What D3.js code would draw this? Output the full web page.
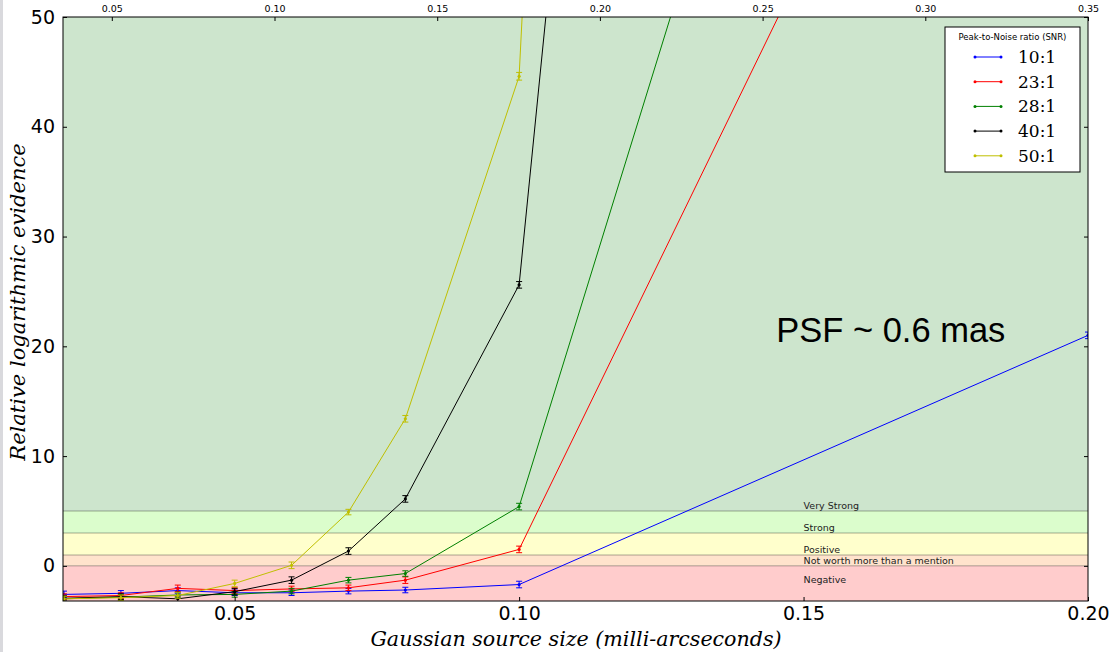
<!DOCTYPE html>
<html>
<head>
<meta charset="utf-8">
<script src="https://cdn.jsdelivr.net/npm/d3@7"></script>
<style>
  body { margin: 0; background: #fff; }
  svg { display: block; }
  .tick-bottom text, .tick-left text { font-family: "DejaVu Sans", sans-serif; font-size: 19px; fill: #000; }
  .tick-top text { font-family: "DejaVu Sans", sans-serif; font-size: 9.5px; fill: #000; }
  .tick line { stroke: #000; }
</style>
</head>
<body>
<svg id="chart" width="1111" height="652"></svg>
<script>
(function () {
  'use strict';

  // source sizes (milli-arcseconds) where evidence was computed
  const sizes = [0.02, 0.03, 0.04, 0.05, 0.06, 0.07, 0.08, 0.10, 0.20];

  // relative log evidence for each SNR run
  const snr10 = [-2.6, -2.5, -2.25, -2.45, -2.45, -2.3, -2.2, -1.7, 21.0];
  const snr23 = [-2.8, -2.7, -2.05, -2.25, -2.1, -2.0, -1.3, 1.5, 108];
  const snr28 = [-3.0, -2.85, -2.65, -2.6, -2.3, -1.3, -0.7, 5.4, 173];
  const snr40 = [-2.95, -2.8, -3.0, -2.35, -1.3, 1.35, 6.1, 25.6, 545];
  const snr50 = [-3.0, -2.9, -2.7, -1.6, 0.05, 4.9, 13.4, 44.6, 1070];

  // error bars (half widths)
  const err10 = [0.3, 0.25, 0.25, 0.25, 0.25, 0.25, 0.25, 0.3, 0.3];
  const err23 = [0.25, 0.25, 0.3, 0.25, 0.25, 0.25, 0.3, 0.3, 0.3];
  const err28 = [0.25, 0.25, 0.25, 0.25, 0.25, 0.25, 0.25, 0.3, 0.3];
  const err40 = [0.25, 0.25, 0.25, 0.3, 0.3, 0.3, 0.3, 0.3, 0.3];
  const err50 = [0.25, 0.25, 0.25, 0.3, 0.3, 0.25, 0.3, 0.35, 0.3];

  const seriesNames = ['10:1', '23:1', '28:1', '40:1', '50:1'];
  const seriesColors = ['#0000ff', '#ff0000', '#008000', '#000000', '#bfbf00'];
  const seriesValues = [snr10, snr23, snr28, snr40, snr50];
  const seriesErrors = [err10, err23, err28, err40, err50];

  // Jeffreys scale bands
  const bandNames = ['Negative', 'Not worth more than a mention', 'Positive', 'Strong', 'Very Strong'];
  const bandLow = [-10, 0, 1, 3, 5];
  const bandHigh = [0, 1, 3, 5, 60];
  const bandLabelAt = [-1.55, 0.2, 1.2, 3.2, 5.2];
  const bandColors = ['#ffcccc', '#ffe3cc', '#ffffcc', '#dbfdcc', '#cde5cd'];

  const xTicks = [0.05, 0.10, 0.15, 0.20];
  const xTopTicks = [0.05, 0.10, 0.15, 0.20, 0.25, 0.30, 0.35];
  const yTicks = [0, 10, 20, 30, 40, 50];

  const left = 63, right = 1088, top = 17, bottom = 601;

  const x = d3.scaleLinear().domain([0.02, 0.20]).range([left + 1, right]);
  const xTop = d3.scaleLinear().domain([0.035, 0.35]).range([left, right]);
  const y = d3.scaleLinear().domain([-3.2, 50]).range([bottom, top]);

  const svg = d3.select('#chart');

  // grey strip on the far left of the original screenshot
  svg.append('rect')
    .attr('x', 0).attr('y', 0)
    .attr('width', 3).attr('height', 652)
    .attr('fill', '#d9d9dd');

  svg.append('clipPath')
    .attr('id', 'plot-clip')
    .append('rect')
    .attr('x', left).attr('y', top)
    .attr('width', right - left).attr('height', bottom - top);

  const plot = svg.append('g')
    .attr('clip-path', 'url(#plot-clip)');

  // bands
  plot.selectAll('rect.band')
    .data(bandNames)
    .enter()
    .append('rect')
    .attr('class', 'band')
    .attr('x', left)
    .attr('width', right - left)
    .attr('y', (d, i) => y(bandHigh[i]))
    .attr('height', (d, i) => y(bandLow[i]) - y(bandHigh[i]))
    .attr('fill', (d, i) => bandColors[i]);

  // band edges
  plot.selectAll('line.band-edge')
    .data([0, 1, 3, 5])
    .enter()
    .append('line')
    .attr('x1', left).attr('x2', right)
    .attr('y1', d => y(d)).attr('y2', d => y(d))
    .attr('stroke', 'rgba(0,0,0,0.22)')
    .attr('stroke-width', 1.5);

  plot.selectAll('text.band-label')
    .data(bandNames)
    .enter()
    .append('text')
    .attr('x', x(0.15))
    .attr('y', (d, i) => y(bandLabelAt[i]))
    .attr('font-family', 'DejaVu Sans, sans-serif')
    .attr('font-size', 9.5)
    .attr('fill', '#222')
    .text(d => d);

  plot.append('text')
    .attr('x', x(0.1452))
    .attr('y', y(20.4))
    .attr('font-family', 'Liberation Sans, Arial, sans-serif')
    .attr('font-size', 34.5)
    .attr('fill', '#000')
    .text('PSF ~ 0.6 mas');

  // lines, error bars and markers
  const line = d3.line()
    .x((d, i) => x(sizes[i]))
    .y(d => y(d));

  seriesValues.forEach((vals, s) => {
    const g = plot.append('g');
    const col = seriesColors[s];
    const errs = seriesErrors[s];

    g.append('path')
      .datum(vals)
      .attr('d', line)
      .attr('fill', 'none')
      .attr('stroke', col)
      .attr('stroke-width', 1);

    const pts = g.selectAll('g.pt')
      .data(vals)
      .enter()
      .append('g')
      .attr('transform', (d, i) => `translate(${x(sizes[i])},0)`);

    pts.append('line')
      .attr('x1', 0).attr('x2', 0)
      .attr('y1', (d, i) => y(d - errs[i]))
      .attr('y2', (d, i) => y(d + errs[i]))
      .attr('stroke', col)
      .attr('stroke-width', 1);

    [-1, 1].forEach(sign => {
      pts.append('line')
        .attr('x1', -3).attr('x2', 3)
        .attr('y1', (d, i) => y(d + sign * errs[i]))
        .attr('y2', (d, i) => y(d + sign * errs[i]))
        .attr('stroke', col)
        .attr('stroke-width', 1);
    });

    pts.append('circle')
      .attr('cx', 0)
      .attr('cy', d => y(d))
      .attr('r', 1.6)
      .attr('fill', col);
  });

  // axes with inward ticks
  const xAxis = svg.append('g')
    .attr('class', 'tick-bottom')
    .attr('transform', `translate(0,${bottom})`)
    .call(d3.axisBottom(x)
      .tickValues(xTicks)
      .tickFormat(d3.format('.2f'))
      .tickSizeInner(-4)
      .tickSizeOuter(0)
      .tickPadding(6));

  const xTopAxis = svg.append('g')
    .attr('class', 'tick-top')
    .attr('transform', `translate(0,${top})`)
    .call(d3.axisTop(xTop)
      .tickValues(xTopTicks)
      .tickFormat(d3.format('.2f'))
      .tickSizeInner(-4)
      .tickSizeOuter(0)
      .tickPadding(5));

  const yAxis = svg.append('g')
    .attr('class', 'tick-left')
    .attr('transform', `translate(${left},0)`)
    .call(d3.axisLeft(y)
      .tickValues(yTicks)
      .tickFormat(d3.format('d'))
      .tickSizeInner(-4)
      .tickSizeOuter(0)
      .tickPadding(8));

  const yRight = svg.append('g')
    .attr('transform', `translate(${right},0)`)
    .call(d3.axisRight(y)
      .tickValues(yTicks)
      .tickFormat('')
      .tickSizeInner(-4)
      .tickSizeOuter(0));

  [xAxis, xTopAxis, yAxis, yRight].forEach(a => a.select('.domain').remove());

  // frame
  svg.append('rect')
    .attr('x', left).attr('y', top)
    .attr('width', right - left).attr('height', bottom - top)
    .attr('fill', 'none')
    .attr('stroke', '#000')
    .attr('stroke-width', 1);

  // axis titles
  svg.append('text')
    .attr('x', 576)
    .attr('y', 646)
    .attr('text-anchor', 'middle')
    .attr('font-family', 'DejaVu Serif, serif')
    .attr('font-style', 'italic')
    .attr('font-size', 20.6)
    .text('Gaussian source size (milli-arcseconds)');

  svg.append('text')
    .attr('transform', `translate(25,302) rotate(-90)`)
    .attr('text-anchor', 'middle')
    .attr('font-family', 'DejaVu Serif, serif')
    .attr('font-style', 'italic')
    .attr('font-size', 21)
    .text('Relative logarithmic evidence');

  // legend
  const legend = svg.append('g')
    .attr('transform', 'translate(945,27)');

  legend.append('rect')
    .attr('x', 0).attr('y', 0)
    .attr('width', 135).attr('height', 145)
    .attr('fill', '#fff')
    .attr('stroke', '#000')
    .attr('stroke-width', 1);

  legend.append('text')
    .attr('x', 67.5)
    .attr('y', 13)
    .attr('text-anchor', 'middle')
    .attr('font-family', 'DejaVu Sans, sans-serif')
    .attr('font-size', 8.5)
    .text('Peak-to-Noise ratio (SNR)');

  const rows = legend.selectAll('g.row')
    .data(seriesNames)
    .enter()
    .append('g')
    .attr('transform', (d, i) => `translate(0,${30 + i * 24.7})`);

  rows.append('line')
    .attr('x1', 30).attr('x2', 56)
    .attr('y1', 0).attr('y2', 0)
    .attr('stroke', (d, i) => seriesColors[i])
    .attr('stroke-width', 1);

  [30, 56].forEach(cx => {
    rows.append('circle')
      .attr('cx', cx).attr('cy', 0)
      .attr('r', 1.5)
      .attr('fill', (d, i) => seriesColors[i]);
  });

  rows.append('text')
    .attr('x', 73)
    .attr('y', 6)
    .attr('font-family', 'DejaVu Serif, serif')
    .attr('font-size', 17)
    .text(d => d);
})();
</script>
</body>
</html>
